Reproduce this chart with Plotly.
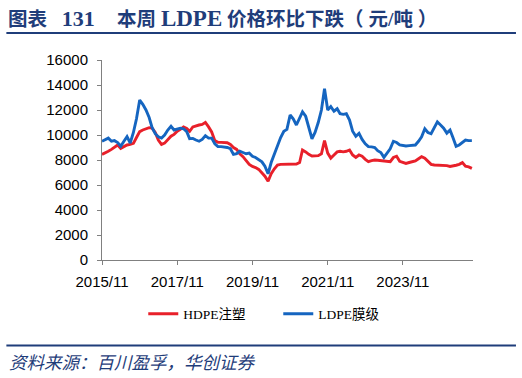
import pandas as pd
import plotly.graph_objects as go

# Monthly observations, Nov 2015 .. Sep 2025
dates = pd.date_range("2015-11-01", periods=119, freq="MS")

hdpe = [8450, 8550, 8700, 8850, 9050, 9200, 8930, 9050, 9200, 9250,
        9330, 9800, 10270, 10400, 10500, 10590, 10550, 10200, 9600, 9250,
        9350, 9650, 9900, 10050, 10300, 10450, 10650, 10530, 10300, 10650,
        10750, 10800, 10850, 11000, 10650, 10250, 9550, 9420, 9410, 9410,
        9380, 9250, 9000, 8850, 8500, 8270, 7950, 7650, 7480, 7400,
        7250, 7000, 6700, 6300, 6900, 7300, 7600, 7650, 7650, 7650,
        7650, 7680, 7680, 7800, 8800, 8650, 8450, 8320, 8330, 8350,
        8500, 9550, 8550, 8150, 8400, 8650, 8700, 8650, 8700, 8800,
        8400, 8200, 8400, 8300, 8050, 7870, 7950, 8000, 7980, 7950,
        7950, 7900, 7870, 8200, 8300, 7900, 7800, 7730, 7800, 7870,
        7930, 8100, 8270, 8150, 7900, 7650, 7600, 7600, 7600, 7600,
        7550, 7480, 7500, 7580, 7650, 7790, 7500, 7450, 7330]

ldpe = [9500, 9600, 9750, 9500, 9550, 9400, 9100, 9500, 9870, 9360,
        10200, 11300, 12800, 12450, 12000, 11400, 10600, 10100, 9850, 9750,
        10000, 10400, 10700, 10400, 10500, 10550, 10500, 10270, 9700, 9730,
        9600, 9500, 9650, 9950, 9750, 9750, 9300, 9070, 9070, 9050,
        9000, 8900, 8450, 8500, 8700, 8600, 8500, 8550, 8300, 8200,
        8050, 7850, 7500, 6900, 7800, 8500, 9200, 9800, 10300, 10450,
        11600, 11300, 10800, 11300, 11850, 11500, 10600, 9700, 10200, 11000,
        12000, 13700, 12000, 12270, 11900, 12100, 11700, 11650, 11700, 11200,
        10300, 9900, 10130, 9650, 9300, 9070, 9050, 9000, 8750, 8600,
        8210, 8600, 8900, 9500, 9400, 9200, 9150, 9120, 9150, 9180,
        9200, 9500, 9850, 10500, 10200, 10100, 10550, 11050, 10800, 10550,
        10150, 10400, 9800, 9100, 9200, 9400, 9600, 9550, 9550]

tick_dates = ["2015-11-01", "2017-11-01", "2019-11-01", "2021-11-01", "2023-11-01"]
tick_labels = ["2015/11", "2017/11", "2019/11", "2021/11", "2023/11"]

series_names = ["HDPE注塑", "LDPE膜级"]
series_colors = ["#E8202A", "#1565C0"]

NAVY = "#1F3D7A"
W, H = 522, 378
L, R, T, B = 101.7, 473.0, 60.0, 260.0


def px(x):
    return (x - L) / (R - L)


def py(y):
    return (B - y) / (B - T)


fig = go.Figure()
for name, vals, col in zip(series_names, [hdpe, ldpe], series_colors):
    fig.add_trace(go.Scatter(x=dates, y=vals, mode="lines", name=name,
                             line=dict(color=col, width=2.9)))

fig.update_layout(
    width=W, height=H,
    margin=dict(l=L, r=W - R, t=T, b=H - B, pad=0, autoexpand=False),
    paper_bgcolor="white", plot_bgcolor="white",
    font=dict(family="Liberation Sans, Arial, sans-serif", size=15, color="black"),
    showlegend=True,
    legend=dict(orientation="h", x=px(143), xanchor="left", y=py(314), yanchor="middle",
                font=dict(family="Liberation Serif, Noto Sans CJK SC, serif", size=13.5, color="black"),
                itemwidth=30, entrywidth=90, entrywidthmode="pixels",
                bgcolor="rgba(0,0,0,0)", borderwidth=0, tracegroupgap=0),
    xaxis=dict(type="date", range=["2015-11-01", "2025-09-12"],
               tickvals=tick_dates, ticktext=tick_labels,
               showgrid=False, zeroline=False, showline=True, linecolor="#808080",
               linewidth=1, ticks="outside", ticklen=4, tickcolor="#808080",
               ticklabelstandoff=4, tickfont=dict(size=15)),
    yaxis=dict(range=[0, 16000], dtick=2000, tickformat="d",
               showgrid=False, zeroline=False, showline=True, linecolor="#808080",
               linewidth=1, ticks="outside", ticklen=4, tickcolor="#808080",
               ticklabelstandoff=6, tickfont=dict(size=15)),
)

TITLE_FONT = "Liberation Serif, Noto Sans CJK SC, serif"
# Title, rules and source note
fig.add_annotation(xref="paper", yref="paper", x=px(6), y=py(18), xanchor="left", yanchor="middle",
                   text="<b>图表&nbsp;&nbsp;&nbsp;<span style='font-size:22px'>131</span></b>",
                   showarrow=False, font=dict(family=TITLE_FONT, size=19.5, color=NAVY))
fig.add_annotation(xref="paper", yref="paper", x=px(115), y=py(18), xanchor="left", yanchor="middle",
                   text="<b>本周 <span style='font-size:23px'>LDPE</span> 价格环比下跌（&nbsp;元/吨&nbsp;）</b>",
                   showarrow=False, font=dict(family=TITLE_FONT, size=19.5, color=NAVY))
fig.add_shape(type="line", xref="paper", yref="paper", x0=px(6), x1=px(516), y0=py(33), y1=py(33),
              line=dict(color=NAVY, width=2))
fig.add_shape(type="line", xref="paper", yref="paper", x0=px(6), x1=px(516), y0=py(345.5), y1=py(345.5),
              line=dict(color=NAVY, width=2))
fig.add_annotation(xref="paper", yref="paper", x=px(7), y=py(361), xanchor="left", yanchor="middle",
                   text="<i>资料来源：百川盈孚，华创证券</i>", showarrow=False,
                   font=dict(family="Noto Sans CJK SC, sans-serif", size=17.5, color=NAVY))

fig.write_html("out.html", config={"displayModeBar": False},
               post_script="document.body.style.margin='0';document.body.style.padding='0';")
